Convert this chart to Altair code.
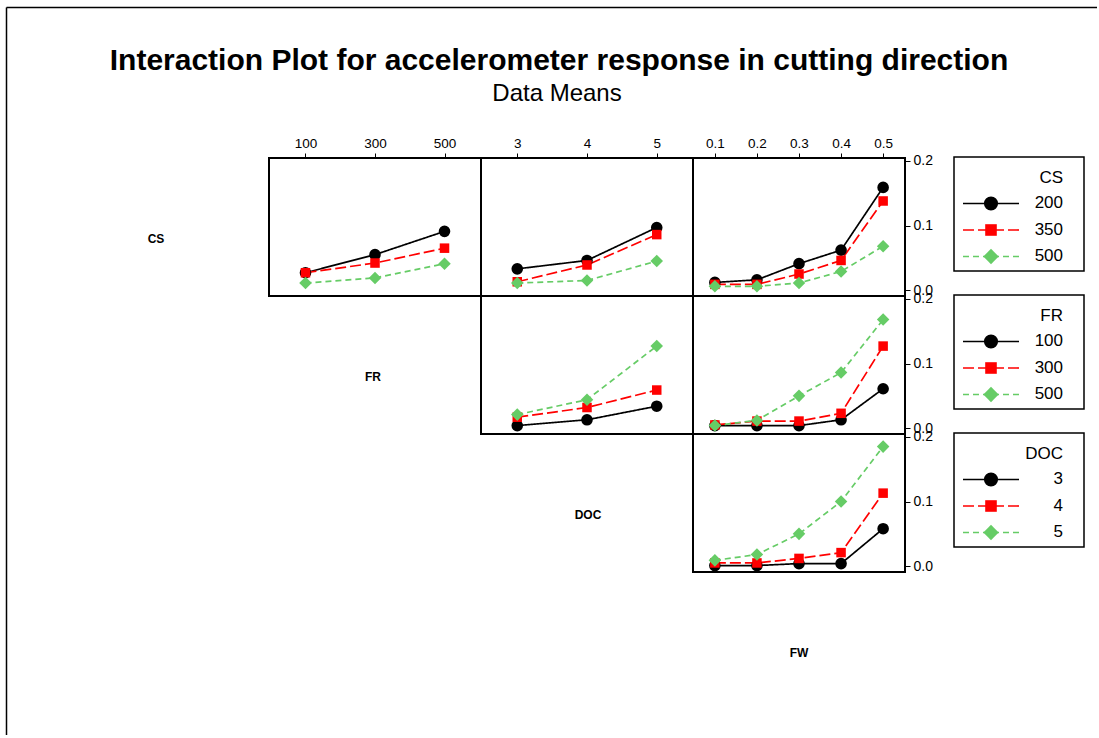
import altair as alt
import pandas as pd

TITLE = "Interaction Plot for accelerometer response in cutting direction"
SUBTITLE = "Data Means"

CS_LEVELS = [200, 350, 500]
FR_LEVELS = [100, 300, 500]
DOC_LEVELS = [3, 4, 5]
FW_LEVELS = [0.1, 0.2, 0.3, 0.4, 0.5]

# CS traces (200, 350, 500) against FR
CS_FR = [[0.027, 0.055, 0.091],
         [0.027, 0.042, 0.065],
         [0.011, 0.019, 0.041]]
# CS traces against DOC
CS_DOC = [[0.033, 0.046, 0.097],
          [0.013, 0.039, 0.086],
          [0.011, 0.015, 0.045]]
# CS traces against FW
CS_FW = [[0.012, 0.016, 0.041, 0.062, 0.159],
         [0.009, 0.009, 0.025, 0.046, 0.138],
         [0.006, 0.006, 0.011, 0.029, 0.068]]
# FR traces (100, 300, 500) against DOC
FR_DOC = [[0.004, 0.013, 0.034],
          [0.017, 0.032, 0.059],
          [0.021, 0.044, 0.127]]
# FR traces against FW
FR_FW = [[0.004, 0.004, 0.004, 0.013, 0.061],
         [0.005, 0.011, 0.011, 0.023, 0.127],
         [0.004, 0.012, 0.050, 0.086, 0.168]]
# DOC traces (3, 4, 5) against FW
DOC_FW = [[0.001, 0.001, 0.004, 0.004, 0.058],
          [0.005, 0.005, 0.012, 0.021, 0.113],
          [0.009, 0.018, 0.050, 0.100, 0.185]]

Y_TICKS = [0.0, 0.1, 0.2]
FR_TICKS = [100, 300, 500]
DOC_TICKS = [3, 4, 5]
FW_TICKS = [0.1, 0.2, 0.3, 0.4, 0.5]

LVL = ["L0", "L1", "L2"]
COLORS = ["#000000", "#FF0000", "#66CC66"]
DASHES = [[1, 0], [11, 4], [6, 4]]
SHAPES = ["circle",
          "M-0.82,-0.82L0.82,-0.82L0.82,0.82L-0.82,0.82Z",
          "M0,-1.08L1.08,0L0,1.08L-1.08,0Z"]

W, H = 212, 138
YDOM = [-0.009, 0.2045]
FONT = "Liberation Sans"

FR_DOM = [-5, 605]
DOC_DOM = [2.48, 5.52]
FW_DOM = [0.048, 0.552]

color_enc = alt.Color("lvl:N", scale=alt.Scale(domain=LVL, range=COLORS), legend=None)
dash_enc = alt.StrokeDash("lvl:N", scale=alt.Scale(domain=LVL, range=DASHES), legend=None)
shape_enc = alt.Shape("lvl:N", scale=alt.Scale(domain=LVL, range=SHAPES), legend=None)


def panel_df(x_levels, series):
    rows = []
    for i, vals in enumerate(series):
        for x, y in zip(x_levels, vals):
            rows.append({"x": x, "y": y, "lvl": LVL[i]})
    return pd.DataFrame(rows)


def legend_layer(title, labels, x0=261):
    df = pd.DataFrame({"lvl": LVL, "label": [str(v) for v in labels], "row": [0, 1, 2]})
    tdf = pd.DataFrame({"t": [title]})
    box = alt.Chart(tdf).mark_rect(fillOpacity=0, stroke="black", strokeWidth=1.5).encode(
        x=alt.value(x0), x2=alt.value(x0 + 130), y=alt.value(-1), y2=alt.value(113))
    base = alt.Chart(df).encode(
        y=alt.Y("row:Q", scale=alt.Scale(domain=[-1.717, 3.491], reverse=True,
                                           nice=False, zero=False), axis=None),
        color=color_enc,
    )
    rules = base.mark_rule(strokeWidth=1.6).encode(
        x=alt.value(x0 + 9), x2=alt.value(x0 + 65), strokeDash=dash_enc)
    pts = base.mark_point(filled=True, opacity=1, size=200, strokeWidth=0).encode(
        x=alt.value(x0 + 37), shape=shape_enc)
    txt = base.mark_text(font=FONT, fontSize=17, align="right", baseline="middle").encode(
        x=alt.value(x0 + 109), text="label:N", color=alt.value("black"))
    ttl = alt.Chart(tdf).mark_text(font=FONT, fontSize=17, align="right",
                                   baseline="middle", color="black").encode(
        x=alt.value(x0 + 109), y=alt.value(20), text="t:N")
    return alt.layer(box, rules, pts, txt, ttl)


def panel(x_levels, series, xdom, xticks, xfmt, top_axis, right_axis, legend=None):
    df = panel_df(x_levels, series)
    xaxis = (alt.Axis(orient="top", values=xticks, format=xfmt, title=None,
                      labelFontSize=13.5, labelFlush=False, labelPadding=3)
             if top_axis else None)
    yaxis = (alt.Axis(orient="right", values=Y_TICKS, format=".1f", title=None,
                      labelFontSize=14, labelFlush=False, labelOverlap=False,
                      labelPadding=3)
             if right_axis else None)
    base = alt.Chart(df).encode(
        x=alt.X("x:Q", scale=alt.Scale(domain=xdom, nice=False, zero=False), axis=xaxis),
        y=alt.Y("y:Q", scale=alt.Scale(domain=YDOM, nice=False, zero=False), axis=yaxis),
        color=color_enc,
    )
    lines = base.mark_line(strokeWidth=1.7).encode(strokeDash=dash_enc)
    pts = base.mark_point(filled=True, opacity=1, size=135, strokeWidth=0).encode(shape=shape_enc)
    layer = alt.layer(lines, pts)
    if legend is not None:
        layer = alt.layer(layer, legend_layer(*legend)).resolve_scale(y="independent")
    return layer.properties(
        width=W, height=H, view=alt.ViewBackground(stroke="black", strokeWidth=2)
    )


def label_layer(text, cx=106, cy=81):
    df = pd.DataFrame({"t": [text]})
    return alt.Chart(df).mark_text(font=FONT, fontSize=12, fontWeight="bold",
                                   color="black", baseline="middle").encode(
        x=alt.value(cx), y=alt.value(cy), text="t:N")


def label_cell(text, cx=106, cy=81):
    return label_layer(text, cx, cy).properties(width=W, height=H)


# first cell carries the CS label, the figure title and the outer frame
tdf = pd.DataFrame({"title": [TITLE], "sub": [SUBTITLE]})
tb = alt.Chart(tdf)
title_txt = tb.mark_text(font=FONT, fontSize=30, fontWeight="bold",
                         color="black", baseline="middle").encode(
    x=alt.value(502), y=alt.value(-97), text="title:N")
sub_txt = tb.mark_text(font=FONT, fontSize=24, color="black",
                       baseline="middle").encode(
    x=alt.value(500), y=alt.value(-64), text="sub:N")
frame_top = tb.mark_rule(color="black", strokeWidth=1.5).encode(
    x=alt.value(-50.5), x2=alt.value(1040), y=alt.value(-150.5))
frame_left = tb.mark_rule(color="black", strokeWidth=1.5).encode(
    x=alt.value(-50.5), y=alt.value(-150.5), y2=alt.value(577))
cs_cell = alt.layer(frame_top, frame_left, title_txt, sub_txt,
                    label_layer("CS", cx=99)).properties(width=W, height=H)

cells = [
    cs_cell,
    panel(FR_LEVELS, CS_FR, FR_DOM, FR_TICKS, "d", True, False),
    panel(DOC_LEVELS, CS_DOC, DOC_DOM, DOC_TICKS, "d", True, False),
    panel(FW_LEVELS, CS_FW, FW_DOM, FW_TICKS, ".1f", True, True, ("CS", CS_LEVELS)),

    label_cell(""),
    label_cell("FR", cx=104),
    panel(DOC_LEVELS, FR_DOC, DOC_DOM, DOC_TICKS, "d", False, False),
    panel(FW_LEVELS, FR_FW, FW_DOM, FW_TICKS, ".1f", False, True, ("FR", FR_LEVELS)),

    label_cell(""),
    label_cell(""),
    label_cell("DOC", cx=107),
    panel(FW_LEVELS, DOC_FW, FW_DOM, FW_TICKS, ".1f", False, True, ("DOC", DOC_LEVELS)),

    label_cell(""),
    label_cell(""),
    label_cell(""),
    label_cell("FW", cx=106),
]

chart = alt.concat(*cells, columns=4, spacing=0, bounds="flush").properties(
    padding={"left": 5, "top": 6, "right": 0, "bottom": 0},
    background="white",
).configure_view(stroke=None).configure_axis(
    labelFont=FONT, labelColor="black", tickColor="black", tickSize=5,
    tickWidth=1, domain=False, grid=False,
)

chart.save("out.html", embed_options={"renderer": "svg", "actions": False})
